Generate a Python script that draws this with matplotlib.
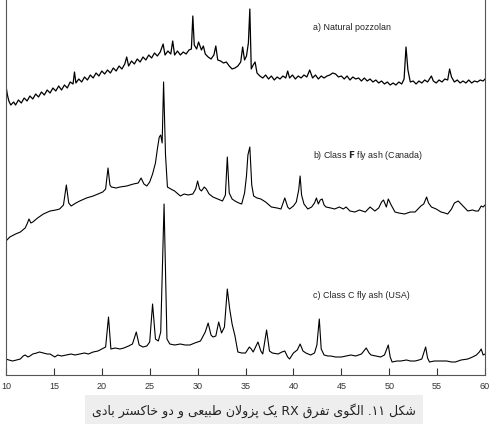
# XRD patterns: natural pozzolan and two fly ashes
import matplotlib.pyplot as plt

# 2-theta (deg) and intensity (arbitrary units, traces stacked)
x_a = [10.0, 10.15, 10.3, 10.5, 10.8, 11.0, 11.3, 11.6, 11.9, 12.2, 12.5, 12.8,
       13.1, 13.4, 13.7, 14.0, 14.3, 14.6, 14.9, 15.2, 15.5, 15.8, 16.1, 16.4,
       16.7, 17.0, 17.15, 17.3, 17.6, 17.9, 18.2, 18.5, 18.8, 19.1, 19.4, 19.7,
       20.0, 20.3, 20.6, 20.9, 21.2, 21.5, 21.8, 22.1, 22.4, 22.6, 22.8, 23.1,
       23.4, 23.7, 24.0, 24.3, 24.6, 24.9, 25.2, 25.5, 25.8, 26.1, 26.4, 26.6,
       26.9, 27.2, 27.4, 27.6, 27.9, 28.2, 28.5, 28.8, 29.1, 29.35, 29.5, 29.65,
       29.9, 30.1, 30.4, 30.6, 30.8, 31.1, 31.4, 31.7, 31.9, 32.1, 32.4, 32.7,
       33.0, 33.3, 33.6, 33.9, 34.2, 34.5, 34.7, 34.9, 35.1, 35.3, 35.45, 35.6,
       35.8, 36.0, 36.2, 36.5, 36.8, 37.1, 37.4, 37.7, 38.0, 38.3, 38.6, 38.9,
       39.2, 39.4, 39.6, 39.9, 40.2, 40.5, 40.8, 41.1, 41.4, 41.7, 42.0, 42.3,
       42.6, 42.9, 43.2, 43.5, 43.8, 44.1, 44.4, 44.7, 45.0, 45.3, 45.6, 45.9,
       46.2, 46.5, 46.8, 47.1, 47.4, 47.7, 48.0, 48.3, 48.6, 48.9, 49.2, 49.5,
       49.8, 50.1, 50.4, 50.7, 51.0, 51.3, 51.55, 51.75, 51.95, 52.2, 52.5, 52.8,
       53.1, 53.4, 53.7, 54.0, 54.2, 54.4, 54.6, 54.9, 55.2, 55.5, 55.8, 56.1,
       56.3, 56.5, 56.8, 57.1, 57.4, 57.7, 58.0, 58.3, 58.6, 58.9, 59.2, 59.5,
       59.8, 60.0]
y_a = [289, 280, 274, 270, 273, 270, 275, 272, 277, 274, 279, 276,
       281, 278, 283, 280, 285, 282, 287, 284, 289, 285, 290, 287,
       293, 291, 303, 292, 296, 293, 298, 295, 300, 297, 302, 299,
       304, 301, 305, 302, 307, 304, 309, 306, 311, 318, 309, 314,
       311, 316, 313, 318, 315, 320, 317, 322, 319, 323, 331, 320,
       324, 321, 334, 320, 324, 320, 323, 321, 325, 326, 359, 330,
       326, 333, 325, 329, 321, 318, 316, 320, 329, 315, 314, 312,
       313, 309, 306, 307, 309, 313, 328, 315, 319, 332, 366, 306,
       310, 313, 302, 299, 297, 300, 296, 299, 295, 298, 296, 299,
       297, 304, 297, 300, 296, 299, 297, 300, 298, 305, 297, 300,
       296, 299, 297, 299, 300, 302, 301, 298, 299, 296, 299, 295,
       298, 296, 297, 294, 297, 294, 296, 293, 295, 292, 294, 291,
       293, 290, 292, 290, 293, 291, 296, 328, 305, 293, 294, 291,
       294, 292, 295, 293, 296, 299, 294, 292, 295, 293, 296, 295,
       306, 298, 293, 295, 292, 294, 292, 295, 292, 294, 293, 295,
       294, 296]

x_b = [10.0, 10.4, 11.0, 11.5, 12.0, 12.2, 12.4, 12.6, 12.8, 13.3, 13.9, 14.6,
       15.2, 15.6, 16.0, 16.3, 16.55, 16.8, 17.3, 17.7, 18.4, 19.1, 19.6, 20.1,
       20.4, 20.65, 20.85, 21.0, 21.5, 21.9, 22.6, 23.3, 23.8, 24.1, 24.4, 24.7,
       25.0, 25.3, 25.6, 25.8, 26.0, 26.15, 26.3, 26.45, 26.65, 26.85, 27.2, 27.6,
       28.2, 28.6, 29.0, 29.5, 29.8, 30.0, 30.2, 30.4, 30.7, 30.9, 31.2, 31.6,
       32.1, 32.6, 32.9, 33.1, 33.3, 33.6, 33.9, 34.3, 34.6, 34.9, 35.1, 35.25,
       35.45, 35.65, 35.85, 36.2, 36.6, 37.1, 37.7, 38.3, 38.7, 39.1, 39.4, 39.6,
       40.0, 40.3, 40.55, 40.7, 40.85, 41.1, 41.5, 41.9, 42.2, 42.4, 42.6, 42.8,
       43.0, 43.2, 43.4, 43.9, 44.3, 44.8, 45.2, 45.5, 45.9, 46.4, 46.9, 47.5,
       48.0, 48.5, 48.9, 49.2, 49.4, 49.7, 49.9, 50.2, 50.6, 51.0, 51.6, 52.2,
       52.7, 53.0, 53.3, 53.6, 53.9, 54.1, 54.4, 54.9, 55.4, 55.8, 56.1, 56.5,
       56.8, 57.2, 57.5, 57.7, 58.2, 58.7, 59.0, 59.3, 59.6, 59.8, 60.0]
y_b = [134, 138, 141, 143, 147, 151, 156, 152, 153, 157, 161, 164,
       165, 166, 170, 190, 172, 169, 172, 174, 177, 179, 181, 183,
       186, 207, 190, 188, 187, 188, 189, 191, 192, 197, 191, 189,
       193, 201, 212, 226, 238, 240, 232, 293, 220, 188, 186, 184,
       179, 181, 180, 181, 186, 194, 186, 184, 188, 186, 181, 178,
       176, 174, 180, 218, 182, 176, 174, 172, 171, 182, 199, 220,
       228, 190, 179, 177, 176, 173, 168, 167, 166, 177, 168, 166,
       169, 173, 185, 199, 180, 171, 166, 168, 172, 177, 171, 175,
       176, 170, 168, 167, 166, 168, 166, 168, 164, 163, 165, 163,
       168, 164, 167, 173, 175, 168, 176, 170, 163, 162, 161, 163,
       163, 166, 169, 171, 178, 172, 168, 166, 163, 162, 161, 166,
       172, 174, 171, 169, 164, 165, 164, 164, 169, 168, 170]

x_c = [10.0, 10.3, 10.7, 11.1, 11.5, 11.8, 12.0, 12.3, 12.5, 12.8, 13.2, 13.5,
       13.9, 14.3, 14.6, 15.1, 15.4, 15.8, 16.3, 16.8, 17.2, 17.7, 18.2, 18.6,
       19.1, 19.6, 20.0, 20.4, 20.7, 20.95, 21.4, 21.9, 22.3, 22.8, 23.2, 23.6,
       23.9, 24.3, 24.7, 25.0, 25.3, 25.6, 25.9, 26.15, 26.5, 26.8, 27.1, 27.6,
       28.2, 28.7, 29.2, 29.7, 30.3, 30.8, 31.1, 31.4, 31.6, 31.9, 32.2, 32.5,
       32.8, 33.1, 33.35, 33.6, 33.9, 34.2, 34.6, 35.0, 35.4, 35.6, 35.8, 36.3,
       36.6, 36.8, 37.2, 37.5, 37.8, 38.4, 38.8, 39.1, 39.4, 39.6, 40.0, 40.4,
       40.7, 41.0, 41.3, 41.8, 42.2, 42.45, 42.7, 42.9, 43.2, 43.6, 43.9, 44.4,
       45.0, 45.5, 46.0, 46.5, 47.1, 47.6, 47.9, 48.1, 48.6, 49.1, 49.5, 49.9,
       50.1, 50.3, 50.8, 51.2, 51.8, 52.2, 52.7, 53.1, 53.4, 53.8, 54.0, 54.2,
       54.7, 55.4, 56.0, 56.5, 56.9, 57.5, 58.2, 58.7, 59.1, 59.4, 59.6, 59.8,
       60.0]
y_c = [16, 15, 14, 15, 16, 19, 20, 18, 19, 21, 22, 23,
       22, 21, 21, 18, 20, 19, 20, 21, 20, 21, 22, 21,
       23, 24, 26, 28, 58, 26, 27, 26, 27, 29, 31, 43,
       30, 28, 29, 33, 71, 36, 34, 43, 171, 36, 31, 30,
       31, 30, 30, 32, 34, 43, 52, 40, 38, 39, 53, 42,
       48, 86, 66, 51, 39, 23, 22, 22, 28, 26, 23, 33,
       24, 21, 45, 24, 22, 21, 23, 24, 18, 16, 22, 25,
       31, 24, 22, 20, 22, 30, 56, 26, 20, 19, 19, 18,
       18, 19, 20, 19, 21, 27, 22, 20, 19, 18, 20, 30,
       18, 13, 14, 14, 15, 14, 14, 15, 16, 28, 17, 13,
       14, 14, 14, 13, 13, 15, 16, 18, 20, 23, 26, 20,
       21]

ticks = [10, 15, 20, 25, 30, 35, 40, 45, 50, 55, 60]
caption = 'شکل ۱۱. الگوی تفرق RX یک پزولان طبیعی و دو خاکستر بادی'

# arabic letter forms: isolated, final, initial, medial
FORMS = {
    'ا': ('\uFE8D', '\uFE8E', None, None),
    'ب': ('\uFE8F', '\uFE90', '\uFE91', '\uFE92'),
    'پ': ('\uFB56', '\uFB57', '\uFB58', '\uFB59'),
    'ت': ('\uFE95', '\uFE96', '\uFE97', '\uFE98'),
    'خ': ('\uFEA5', '\uFEA6', '\uFEA7', '\uFEA8'),
    'د': ('\uFEA9', '\uFEAA', None, None),
    'ر': ('\uFEAD', '\uFEAE', None, None),
    'ز': ('\uFEAF', '\uFEB0', None, None),
    'س': ('\uFEB1', '\uFEB2', '\uFEB3', '\uFEB4'),
    'ش': ('\uFEB5', '\uFEB6', '\uFEB7', '\uFEB8'),
    'ط': ('\uFEC1', '\uFEC2', '\uFEC3', '\uFEC4'),
    'ع': ('\uFEC9', '\uFECA', '\uFECB', '\uFECC'),
    'ف': ('\uFED1', '\uFED2', '\uFED3', '\uFED4'),
    'ق': ('\uFED5', '\uFED6', '\uFED7', '\uFED8'),
    'ک': ('\uFB8E', '\uFB8F', '\uFB90', '\uFB91'),
    'گ': ('\uFB92', '\uFB93', '\uFB94', '\uFB95'),
    'ل': ('\uFEDD', '\uFEDE', '\uFEDF', '\uFEE0'),
    'ن': ('\uFEE5', '\uFEE6', '\uFEE7', '\uFEE8'),
    'و': ('\uFEED', '\uFEEE', None, None),
    'ی': ('\uFBFC', '\uFBFD', '\uFBFE', '\uFBFF'),
}


def shape_word(w):
    out = []
    i = 0
    prev_joins = False
    while i < len(w):
        ch = w[i]
        if ch not in FORMS:
            out.append(ch)
            prev_joins = False
            i += 1
            continue
        if ch == 'ل' and i + 1 < len(w) and w[i + 1] == 'ا':
            out.append('\uFEFC' if prev_joins else '\uFEFB')
            prev_joins = False
            i += 2
            continue
        iso, fin, ini, med = FORMS[ch]
        nxt = i + 1 < len(w) and w[i + 1] in FORMS
        next_joins = nxt and ini is not None
        if prev_joins and next_joins:
            out.append(med)
        elif prev_joins:
            out.append(fin)
        elif next_joins:
            out.append(ini)
        else:
            out.append(iso)
        prev_joins = next_joins
        i += 1
    return ''.join(reversed(out))


def visual(text):
    words = []
    for w in text.split(' '):
        if w[0] in FORMS:
            words.append(shape_word(w))
        elif w.endswith('.'):
            words.append('.' + w[:-1])
        else:
            words.append(w)
    return ' '.join(reversed(words))


plt.rcParams['font.family'] = ['Liberation Sans', 'DejaVu Sans']

fig = plt.figure(figsize=(4.98, 4.39), dpi=100)
ax = fig.add_axes([0.012, 0.1435, 0.962, 0.8565])

ax.plot(x_a, y_a, color='black', lw=0.9)
ax.plot(x_b, y_b, color='black', lw=0.8)
ax.plot(x_c, y_c, color='black', lw=0.8)

ax.set_xlim(10, 60)
ax.set_ylim(0, 376)
ax.set_xticks(ticks)
ax.set_yticks([])
ax.tick_params(axis='x', direction='in', length=5, width=0.8,
               labelsize=6.5, pad=4, colors='#333333')
ax.spines['top'].set_visible(False)
for s in ['left', 'right', 'bottom']:
    ax.spines[s].set_color('#555555')
    ax.spines[s].set_linewidth(0.8)

ax.text(42.05, 349, 'a) Natural pozzolan', fontsize=6.4, va='center',
        color='#222222')
ax.text(42.05, 221, 'b) Class $\\mathbf{F}$ fly ash (Canada)', fontsize=6.4,
        va='center', color='#222222')
ax.text(42.05, 81, 'c) Class C fly ash (USA)', fontsize=6.4, va='center',
        color='#222222')

fig.text(0.51, 0.064, visual(caption), ha='center', va='center', fontsize=9,
         family=['DejaVu Sans'], color='#222222',
         bbox=dict(facecolor='#eeeeee', edgecolor='none', pad=5))

plt.savefig('out.png', dpi=100)
